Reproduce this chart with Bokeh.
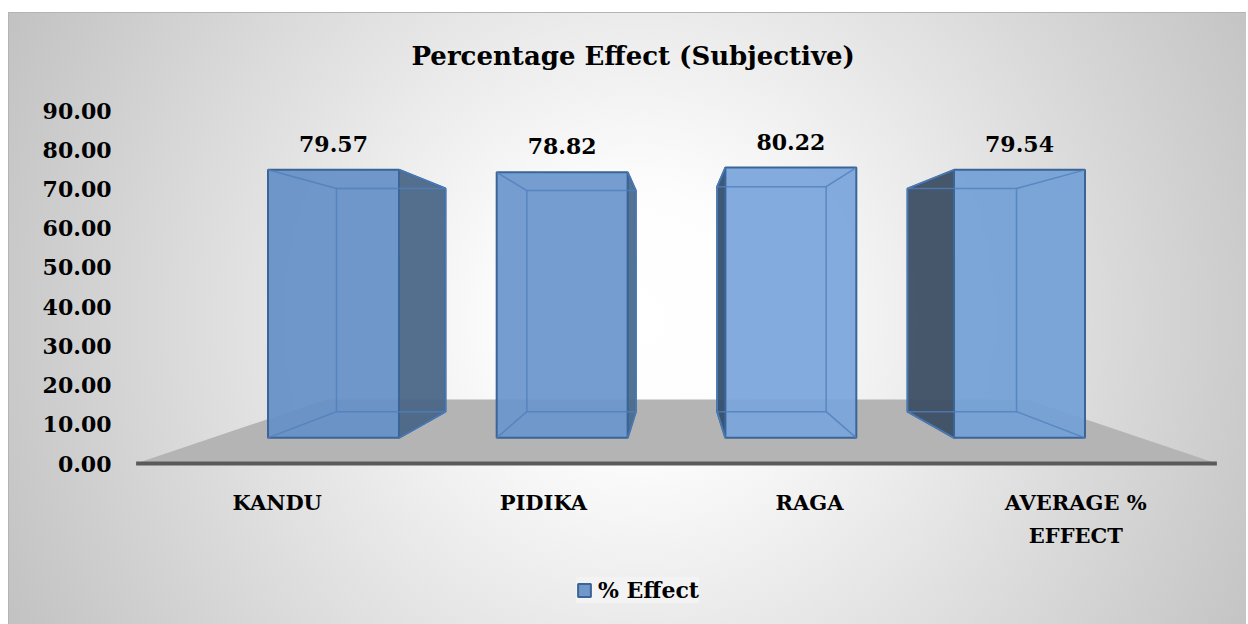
from bokeh.plotting import figure
from bokeh.models import Range1d, FixedTicker, PrintfTickFormatter, ColumnDataSource, Legend, LegendItem
from bokeh.core.properties import value
from bokeh.embed import file_html
from bokeh.resources import INLINE

# ---------------- data ----------------
categories = ["KANDU", "PIDIKA", "RAGA", "AVERAGE % EFFECT"]
category_labels = ["KANDU", "PIDIKA", "RAGA", "AVERAGE %\nEFFECT"]
effect = [79.57, 78.82, 80.22, 79.54]
series_name = "% Effect"
y_ticks = [0, 10, 20, 30, 40, 50, 60, 70, 80, 90]
chart_title = "Percentage Effect (Subjective)"

# ---------------- layout / style constants ----------------
FONT = "DejaVu Serif"
FIG_LEFT, FIG_TOP = 8, 12          # page position of figure
FIG_W, FIG_H = 1238, 612
FRAME_L, FRAME_R = 125, FIG_LEFT + FIG_W   # page x of frame edges
FRAME_T, FRAME_B = 75, FIG_TOP + FIG_H     # page y of frame edges
Y0_PX, PX_PER_V = 463.0, 353.0 / 90.0
X0_PX, PX_PER_U = 143.6, 266.2
VX = (676 - X0_PX) / PX_PER_U     # vanishing point (data units)
VY = (Y0_PX - 281) / PX_PER_V
S_FRONT, S_BACK = 0.859, 0.715    # depth scale of bar faces
S_FLOOR_BACK = 0.648
HALF_W = 0.2864
FLOOR_PAD = 0.03

front_colors = ["#6590c6", "#6a96cb", "#7aa5da", "#73a0d6"]
side_colors = ["#4a6787", "#4b6a8c", "#34506f", "#3d4f64"]
EDGE = "#3b6497"
INNER = "#4f7fbd"


def proj(x, y, s):
    return VX + s * (x - VX), VY + s * (y - VY)


p = figure(width=FIG_W, height=FIG_H, output_backend="svg", toolbar_location=None,
           x_range=Range1d((FRAME_L - X0_PX) / PX_PER_U, (FRAME_R - X0_PX) / PX_PER_U),
           y_range=Range1d((Y0_PX - FRAME_B) / PX_PER_V, (Y0_PX - FRAME_T) / PX_PER_V),
           x_axis_location=None, y_axis_location="left",
           min_border_left=FRAME_L - FIG_LEFT, min_border_right=0,
           min_border_top=FRAME_T - FIG_TOP, min_border_bottom=0)
p.margin = (FIG_TOP, 0, 0, FIG_LEFT)
p.styles = {
    "background": "radial-gradient(circle farthest-corner at 51% 50%, #ffffff 0%, #fdfdfd 18%, #c2c2c2 100%)",
    "box-shadow": "inset 1px 1px 0 #b4b4b4",
}
p.border_fill_alpha = 0
p.background_fill_alpha = 0
p.outline_line_color = None
p.xgrid.visible = False
p.ygrid.visible = False

# title
p.title.text = chart_title
p.title.text_font = FONT
p.title.text_font_size = "26px"
p.title.text_font_style = "bold"
p.title.text_color = "black"
p.title.align = "left"
p.title.offset = 286

# y axis
ax = p.yaxis[0]
ax.ticker = FixedTicker(ticks=y_ticks)
ax.formatter = PrintfTickFormatter(format="%.2f")
ax.axis_line_color = None
ax.major_tick_line_color = None
ax.minor_tick_line_color = None
ax.major_label_standoff = 8
ax.major_label_text_font = FONT
ax.major_label_text_font_style = "bold"
ax.major_label_text_font_size = "22px"
ax.major_label_text_color = "black"

# floor
n = len(effect)
fl = proj(-FLOOR_PAD, 0, 1.0)
fr = proj(n + FLOOR_PAD, 0, 1.0)
br = proj(n + FLOOR_PAD, 0, S_FLOOR_BACK)
bl = proj(-FLOOR_PAD, 0, S_FLOOR_BACK)
p.patch([fl[0], fr[0], br[0], bl[0]], [fl[1], fr[1], br[1], bl[1]],
        fill_color="#b4b4b4", line_color=None)
p.line([fl[0], fr[0]], [fl[1], fr[1]], line_color="#5a5a5a", line_width=4)

# bars
front_xs, front_ys, side_xs, side_ys, side_cols = [], [], [], [], []
inner_xs, inner_ys = [], []
lab_x, lab_y, lab_t = [], [], []
for i, v in enumerate(effect):
    cx = i + 0.5
    f = [proj(cx - HALF_W, 0, S_FRONT), proj(cx + HALF_W, 0, S_FRONT),
         proj(cx + HALF_W, v, S_FRONT), proj(cx - HALF_W, v, S_FRONT)]
    b = [proj(cx - HALF_W, 0, S_BACK), proj(cx + HALF_W, 0, S_BACK),
         proj(cx + HALF_W, v, S_BACK), proj(cx - HALF_W, v, S_BACK)]
    front_xs.append([q[0] for q in f])
    front_ys.append([q[1] for q in f])
    # visible side face
    if b[0][0] < f[0][0]:
        side = [f[0], f[3], b[3], b[0]]
    else:
        side = [f[1], f[2], b[2], b[1]]
    side_xs.append([q[0] for q in side])
    side_ys.append([q[1] for q in side])
    side_cols.append(side_colors[i])
    # inner edges (back rectangle + connectors)
    inner_xs.append([b[0][0], b[1][0], b[2][0], b[3][0], b[0][0]])
    inner_ys.append([b[0][1], b[1][1], b[2][1], b[3][1], b[0][1]])
    for k in range(4):
        inner_xs.append([f[k][0], b[k][0]])
        inner_ys.append([f[k][1], b[k][1]])
    lab_x.append((f[2][0] + f[3][0]) / 2)
    lab_y.append(f[2][1])
    lab_t.append(f"{v:.2f}")

p.patches(side_xs, side_ys, fill_color=side_cols, fill_alpha=0.95, line_color=EDGE, line_width=2)
front_src = ColumnDataSource(dict(xs=front_xs, ys=front_ys, color=front_colors[:n]))
front_r = p.patches("xs", "ys", source=front_src, fill_color="color", fill_alpha=0.93,
                    line_color=EDGE, line_width=2)
p.multi_line(inner_xs, inner_ys, line_color=INNER, line_width=1.5, line_alpha=0.8)

# value labels
p.text(lab_x, lab_y, text=lab_t, text_font=value(FONT), text_font_style="bold",
       text_font_size="22px", text_color="black", text_align="center",
       text_baseline="alphabetic", y_offset=-26)

# category labels
p.text([i + 0.5 for i in range(n)], [0] * n, text=category_labels, text_font=value(FONT),
       text_font_style="bold", text_font_size="21px", text_color="black",
       text_align="center", text_baseline="top", y_offset=26, text_line_height=1.35)

# legend
legend = Legend(items=[LegendItem(label=series_name, renderers=[front_r], index=0)],
                location=(451, 21), orientation="horizontal",
                glyph_width=16, glyph_height=16, label_standoff=6, padding=12, margin=0,
                label_text_font=FONT, label_text_font_style="bold", label_text_font_size="22px",
                label_text_color="black", background_fill_color="#f3f3f3", background_fill_alpha=1,
                border_line_color=None)
p.add_layout(legend)

open("out.html", "w").write(file_html(p, INLINE))
